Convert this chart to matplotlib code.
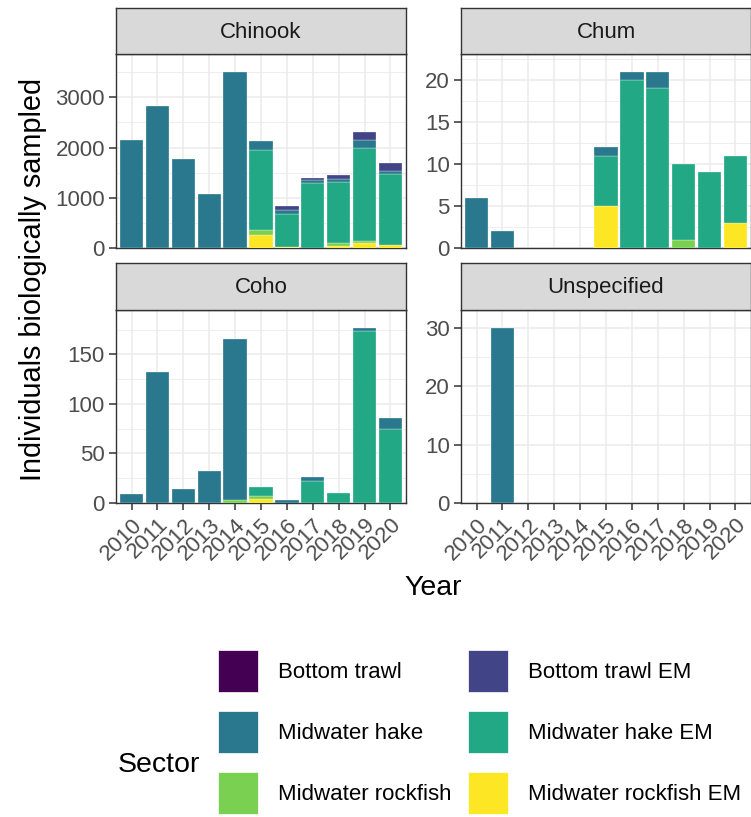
import numpy as np
import matplotlib
matplotlib.use("Agg")
import matplotlib.pyplot as plt
from matplotlib.patches import Patch

plt.rcParams["font.family"] = ["Liberation Sans", "DejaVu Sans"]

years = [2010, 2011, 2012, 2013, 2014, 2015, 2016, 2017, 2018, 2019, 2020]
sectors = ["Bottom trawl", "Bottom trawl EM", "Midwater hake",
           "Midwater hake EM", "Midwater rockfish", "Midwater rockfish EM"]
sector_colors = ["#440154", "#414487", "#2A788E", "#22A884", "#7AD151", "#FDE725"]

# samples per year, by sector
chinook = {
    "Bottom trawl EM":      [0, 0, 0, 0, 0, 0, 80, 40, 67, 140, 167],
    "Midwater hake":        [2140, 2830, 1780, 1070, 3510, 180, 87, 67, 73, 160, 67],
    "Midwater hake EM":     [0, 0, 0, 0, 0, 1600, 653, 1293, 1214, 1853, 1400],
    "Midwater rockfish":    [0, 0, 0, 0, 0, 100, 0, 0, 50, 53, 0],
    "Midwater rockfish EM": [0, 0, 0, 0, 0, 250, 20, 0, 40, 93, 67],
}
chum = {
    "Midwater hake":        [6, 2, 0, 0, 0, 1, 1, 2, 0, 0, 0],
    "Midwater hake EM":     [0, 0, 0, 0, 0, 6, 20, 19, 9, 9, 8],
    "Midwater rockfish":    [0, 0, 0, 0, 0, 0, 0, 0, 1, 0, 0],
    "Midwater rockfish EM": [0, 0, 0, 0, 0, 5, 0, 0, 0, 0, 3],
}
coho = {
    "Midwater hake":        [9, 132, 14, 32, 162, 0, 3, 4, 0, 3, 11],
    "Midwater hake EM":     [0, 0, 0, 0, 0, 9, 0, 22, 10, 174, 75],
    "Midwater rockfish":    [0, 0, 0, 0, 3, 3, 0, 0, 0, 0, 0],
    "Midwater rockfish EM": [0, 0, 0, 0, 0, 4, 0, 0, 0, 0, 0],
}
unspecified = {
    "Midwater hake":        [0, 30, 0, 0, 0, 0, 0, 0, 0, 0, 0],
}

panels = [("Chinook", chinook, [0, 1000, 2000, 3000]),
          ("Chum", chum, [0, 5, 10, 15, 20]),
          ("Coho", coho, [0, 50, 100, 150]),
          ("Unspecified", unspecified, [0, 10, 20, 30])]

W, H = 751, 817


def rect(l, t, r, b):
    return [l / W, 1 - b / H, (r - l) / W, (b - t) / H]


# pixel boxes: (left, right), (strip top, panel top, panel bottom)
cols = [(116, 406), (461, 751)]
rows = [(8, 54, 248), (263, 310, 503)]

fig = plt.figure(figsize=(W / 100, H / 100), dpi=100)

for i, (name, data, yticks) in enumerate(panels):
    l, r = cols[i % 2]
    st, t, b = rows[i // 2]
    ax = fig.add_axes(rect(l, t, r, b))
    x = np.arange(len(years))
    bottom = np.zeros(len(years))
    # ggplot stacks the first level on top, so draw from the last level up
    for sec, col in reversed(list(zip(sectors, sector_colors))):
        vals = np.array(data.get(sec, [0] * len(years)), dtype=float)
        nz = vals > 0
        if not nz.any():
            continue
        ax.bar(x[nz], vals[nz], bottom=bottom[nz], width=0.9, color=col,
               edgecolor="white", linewidth=0.2, zorder=3)
        bottom += vals
    ymax = bottom.max() * 1.1
    ax.set_ylim(0, ymax)
    ax.set_xlim(-0.6, len(years) - 0.4)
    ax.set_yticks(yticks)
    step = yticks[1] - yticks[0]
    minor = np.arange(step / 2, ymax, step)
    ax.set_yticks(minor, minor=True)
    ax.set_xticks(x)
    ax.set_xticklabels([str(y) for y in years], rotation=45,
                       ha="right", va="top", rotation_mode="anchor")
    ax.grid(which="major", color="#EBEBEB", linewidth=1.1, zorder=0)
    ax.grid(which="minor", axis="y", color="#EBEBEB", linewidth=0.6, zorder=0)
    ax.set_axisbelow(True)
    ax.tick_params(axis="both", which="major", length=5, width=1.1,
                   color="#333333", labelsize=16, labelcolor="#4D4D4D", pad=3)
    ax.tick_params(axis="y", which="minor", length=0)
    if i < 2:
        # top row shares the x axis with the row below
        ax.tick_params(axis="x", which="both", length=0, labelbottom=False)
    for s in ax.spines.values():
        s.set_color("#333333")
        s.set_linewidth(1.0)

    sax = fig.add_axes(rect(l, st, r, t))
    sax.set_facecolor("#D9D9D9")
    sax.set_xticks([])
    sax.set_yticks([])
    for s in sax.spines.values():
        s.set_color("#333333")
        s.set_linewidth(1.0)
    sax.text(0.5, 0.47, name, ha="center", va="center", fontsize=16,
             color="#1A1A1A", transform=sax.transAxes)

fig.text(33 / W, 1 - 279 / H, "Individuals biologically sampled",
         rotation=90, ha="center", va="center", fontsize=20.8)
fig.text(433 / W, 1 - 588 / H, "Year", ha="center", va="center", fontsize=20.5)

handles = [Patch(facecolor=c, edgecolor="white", linewidth=0.5, label=s)
           for s, c in zip(sectors, sector_colors)]
order = [0, 2, 4, 1, 3, 5]
fig.legend([handles[k] for k in order], [sectors[k] for k in order],
           loc="upper left", bbox_to_anchor=(218 / W, 1 - 650 / H),
           ncol=2, frameon=False, fontsize=16, handlelength=1.8,
           handleheight=2.53, handletextpad=0.9, labelspacing=0.86,
           columnspacing=0.75, borderpad=0, borderaxespad=0)
fig.text(118 / W, 1 - 765 / H, "Sector", ha="left", va="center", fontsize=20.5)

fig.savefig("out.png", dpi=100)
